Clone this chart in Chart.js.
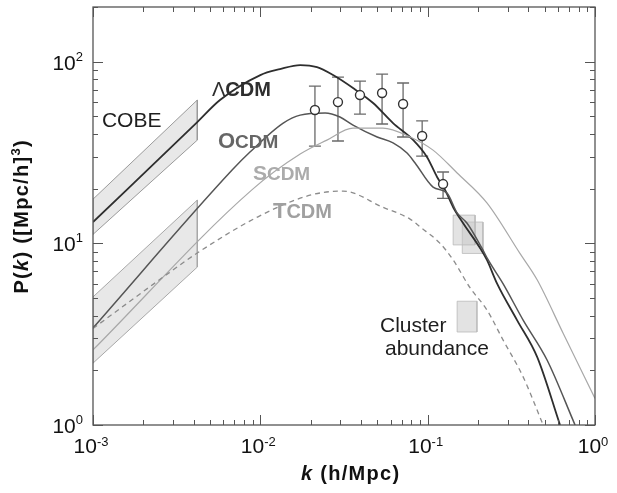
<!DOCTYPE html>
<html>
<head>
<meta charset="utf-8">
<script src="https://cdn.jsdelivr.net/npm/chart.js@4.4.1/dist/chart.umd.min.js"></script>
<style>
  html, body { margin: 0; padding: 0; background: #fff; }
</style>
</head>
<body>
<canvas id="pk" width="617" height="493"></canvas>
<script>
// model curves, k in h/Mpc, P in (Mpc/h)^3
const kLcdm = [0.001, 0.0042, 0.00574, 0.01, 0.0131, 0.0173, 0.0218, 0.0272, 0.0358, 0.0472, 0.0621, 0.0818, 0.099, 0.1138, 0.127, 0.142, 0.163, 0.206, 0.226, 0.26, 0.342, 0.451, 0.618];
const pLcdm = [13.1, 46.5, 61.5, 84.4, 91, 95.8, 93.3, 84.4, 71.6, 59.2, 45.9, 37.1, 29.9, 23.2, 19.7, 15.8, 12.9, 9.4, 8.1, 6.0, 3.78, 2.37, 1.0];

const kOcdm = [0.001, 0.00678, 0.00867, 0.0137, 0.0173, 0.0244, 0.0299, 0.0358, 0.0499, 0.0621, 0.0753, 0.0841, 0.1077, 0.1305, 0.150, 0.172, 0.211, 0.23, 0.282, 0.372, 0.517, 0.76];
const pOcdm = [3.42, 25.3, 31.8, 45.9, 50.8, 52.2, 49.6, 44.8, 38.5, 35.7, 31.4, 27.7, 20.4, 18.9, 14.7, 12.9, 9.4, 8.1, 6.0, 3.78, 2.28, 1.0];

const kScdm = [0.001, 0.0089, 0.0173, 0.025, 0.0358, 0.054, 0.0785, 0.1077, 0.150, 0.226, 0.356, 0.451, 0.645, 1.0];
const pScdm = [2.59, 19.7, 31, 37, 43.1, 43.1, 38.5, 32.6, 24.4, 16.7, 8.8, 6.3, 3.2, 1.4];

const kTcdm = [0.001, 0.00289, 0.0042, 0.00968, 0.0198, 0.0312, 0.054, 0.0785, 0.0902, 0.1186, 0.142, 0.179, 0.226, 0.282, 0.372, 0.49];
const pTcdm = [3.4, 6.95, 8.85, 14.0, 18.4, 19.4, 15.8, 13.6, 12.3, 10.0, 8.1, 5.7, 4.3, 2.94, 1.84, 1.0];

// galaxy survey points with error bars
const kData = [0.0212, 0.0291, 0.0394, 0.0534, 0.0713, 0.0927, 0.1236];
const pData = [54.2, 59.9, 65.5, 67.2, 58.5, 39, 21.2];
const pErrHigh = [73.4, 82.3, 78.2, 85.5, 76.3, 47.2, 24.7];
const pErrLow = [34.3, 36.6, 51.5, 45.4, 38.5, 30.2, 17.7];

// COBE normalisation bands (outline, closed)
const cobeK = [0.001, 0.0042, 0.0042, 0.001, 0.001];
const cobeHighP = [17.5, 61.5, 37, 11.2, 17.5];
const cobeLowP = [5.07, 17.3, 7.4, 2.19, 5.07];

// cluster abundance boxes
const clusterKLow = [0.142, 0.161, 0.150];
const clusterKHigh = [0.192, 0.214, 0.197];
const clusterPLow = [9.8, 8.8, 3.25];
const clusterPHigh = [14.3, 13.1, 4.8];

const xMajor = [0.001, 0.01, 0.1, 1];
const xExp = ['-3', '-2', '-1', '0'];
const yMajor = [1, 10, 100];
const yExp = ['0', '1', '2'];

const FONT = '"Liberation Sans", Arial, Helvetica, sans-serif';

function pts(ks, ps){
    return ks.map(function(k, i){ return {x: k, y: ps[i]}; });
}

function curve(ks, ps, color, width, dash){
    return {
        data: pts(ks, ps),
        showLine: true,
        borderColor: color,
        borderWidth: width,
        borderDash: dash || [],
        pointRadius: 0,
        cubicInterpolationMode: 'monotone',
        fill: false,
        order: 2
    };
}

function polygon(ks, ps, fillColor, lineColor, order){
    return {
        data: pts(ks, ps),
        showLine: true,
        borderColor: lineColor,
        backgroundColor: fillColor,
        borderWidth: 1,
        pointRadius: 0,
        tension: 0,
        fill: 'shape',
        order: order
    };
}

const datasets = [
    polygon(cobeK, cobeHighP, 'rgba(205,205,205,0.45)', '#9a9a9a', 6),
    polygon(cobeK, cobeLowP, 'rgba(205,205,205,0.45)', '#a8a8a8', 6)
];
for(let i = 0; i < clusterKLow.length; i++){
    const bk = [clusterKLow[i], clusterKHigh[i], clusterKHigh[i], clusterKLow[i], clusterKLow[i]];
    const bp = [clusterPHigh[i], clusterPHigh[i], clusterPLow[i], clusterPLow[i], clusterPHigh[i]];
    datasets.push(polygon(bk, bp, 'rgba(200,200,200,0.5)', 'rgba(185,185,185,0.8)', 5));
}
datasets.push(curve(kTcdm, pTcdm, '#8c8c8c', 1.3, [5, 4]));
datasets.push(curve(kScdm, pScdm, '#a8a8a8', 1.2));
datasets.push(curve(kOcdm, pOcdm, '#555', 1.5));
datasets.push(curve(kLcdm, pLcdm, '#2e2e2e', 1.8));
datasets.push({
    data: pts(kData, pData),
    showLine: false,
    pointRadius: 4.5,
    pointBackgroundColor: '#fff',
    pointBorderColor: '#333',
    pointBorderWidth: 1.4,
    order: 0
});

// text pieces: [text, size, bold, italic, color, raise]
function setFont(ctx, p){
    ctx.font = (p[3] ? 'italic ' : '') + (p[2] ? 'bold ' : '') + p[1] + 'px ' + FONT;
}

function drawParts(ctx, x, y, parts, spacing){
    let cx = x;
    const sp = spacing || 0;
    parts.forEach(function(p){
        setFont(ctx, p);
        ctx.fillStyle = p[4];
        for(const ch of p[0]){
            ctx.fillText(ch, cx, y - (p[5] || 0));
            cx += ctx.measureText(ch).width + sp;
        }
    });
    return cx - x;
}

function partsWidth(ctx, parts, spacing){
    let w = 0;
    const sp = spacing || 0;
    parts.forEach(function(p){
        setFont(ctx, p);
        for(const ch of p[0]){
            w += ctx.measureText(ch).width + sp;
        }
    });
    return w - sp;
}

const decorations = {
    id: 'decorations',
    beforeDatasetsDraw(chart){
        const ctx = chart.ctx;
        const xs = chart.scales.x, ys = chart.scales.y;
        ctx.save();
        ctx.strokeStyle = '#6a6a6a';
        ctx.lineWidth = 1.3;
        for(let i = 0; i < kData.length; i++){
            const px = xs.getPixelForValue(kData[i]);
            const top = ys.getPixelForValue(pErrHigh[i]);
            const bot = ys.getPixelForValue(pErrLow[i]);
            ctx.beginPath();
            ctx.moveTo(px, top); ctx.lineTo(px, bot);
            ctx.moveTo(px - 6, top); ctx.lineTo(px + 6, top);
            ctx.moveTo(px - 6, bot); ctx.lineTo(px + 6, bot);
            ctx.stroke();
        }
        ctx.restore();
    },
    afterDraw(chart){
        const ctx = chart.ctx;
        const a = chart.chartArea;
        const xs = chart.scales.x, ys = chart.scales.y;
        ctx.save();

        // frame
        ctx.strokeStyle = '#555';
        ctx.lineWidth = 1.3;
        ctx.strokeRect(a.left, a.top, a.right - a.left, a.bottom - a.top);

        // inward ticks on all four sides
        ctx.beginPath();
        for(let e = -3; e <= 0; e++){
            for(let m = 1; m <= 9; m++){
                const v = m * Math.pow(10, e);
                if(v > 1.0001) continue;
                const px = Math.round(xs.getPixelForValue(v)) + 0.5;
                const len = m === 1 ? 10 : 5;
                ctx.moveTo(px, a.bottom); ctx.lineTo(px, a.bottom - len);
                ctx.moveTo(px, a.top); ctx.lineTo(px, a.top + len);
            }
        }
        for(let e = 0; e <= 2; e++){
            for(let m = 1; m <= 9; m++){
                const v = m * Math.pow(10, e);
                if(v > 200) continue;
                const py = Math.round(ys.getPixelForValue(v)) + 0.5;
                const len = m === 1 ? 10 : 5;
                ctx.moveTo(a.left, py); ctx.lineTo(a.left + len, py);
                ctx.moveTo(a.right, py); ctx.lineTo(a.right - len, py);
            }
        }
        ctx.lineWidth = 1;
        ctx.stroke();

        // tick labels
        ctx.textBaseline = 'alphabetic';
        ctx.textAlign = 'left';
        yMajor.forEach(function(v, i){
            const py = ys.getPixelForValue(v);
            const parts = [['10', 21, false, false, '#111', 0], [yExp[i], 13, false, false, '#111', 9]];
            const w = partsWidth(ctx, parts);
            drawParts(ctx, a.left - 10 - w, py + 8, parts);
        });
        xMajor.forEach(function(v, i){
            const px = xs.getPixelForValue(v);
            const parts = [['10', 21, false, false, '#111', 0], [xExp[i], 13, false, false, '#111', 7]];
            const w = partsWidth(ctx, parts);
            drawParts(ctx, px - w / 2 - 2, a.bottom + 28, parts);
        });

        // axis titles
        const xt = [['k', 20, true, true, '#111'], [' (h/Mpc)', 20, true, false, '#111']];
        drawParts(ctx, 350 - partsWidth(ctx, xt, 1.3) / 2, a.bottom + 55, xt, 1.3);

        const yt = [['P(', 20, true, false, '#111'], ['k', 20, true, true, '#111'], [') ([Mpc/h]', 20, true, false, '#111'],
                    ['3', 13, true, false, '#111', 8], [')', 20, true, false, '#111']];
        ctx.save();
        ctx.translate(28, 217);
        ctx.rotate(-Math.PI / 2);
        drawParts(ctx, -partsWidth(ctx, yt, 1.3) / 2, 0, yt, 1.3);
        ctx.restore();

        // model / data labels, anchored in data coordinates
        const notes = [
            [0.00113, 43.6, [['COBE', 21, false, false, '#1e1e1e']]],
            [0.00514, 64.7, [['\u039b', 20, false, false, '#2e2e2e'], ['CDM', 20, true, false, '#2e2e2e']]],
            [0.00558, 33.5, [['O', 22, true, false, '#666'], ['CDM', 19, true, false, '#666']]],
            [0.00903, 22.3, [['S', 21, true, false, '#ababab'], ['CDM', 19, true, false, '#ababab']]],
            [0.0119, 13.8, [['T', 22, true, false, '#a0a0a0'], ['CDM', 20, true, false, '#a0a0a0']]],
            [0.0519, 3.25, [['Cluster', 21, false, false, '#1e1e1e']]],
            [0.0556, 2.43, [['abundance', 21, false, false, '#1e1e1e']]]
        ];
        notes.forEach(function(n){
            drawParts(ctx, xs.getPixelForValue(n[0]), ys.getPixelForValue(n[1]), n[2]);
        });

        ctx.restore();
    }
};

new Chart(document.getElementById('pk'), {
    type: 'scatter',
    data: { datasets: datasets },
    options: {
        responsive: false,
        animation: false,
        events: [],
        layout: { padding: { left: 0, right: 22, top: 7, bottom: 0 } },
        plugins: {
            legend: { display: false },
            tooltip: { enabled: false }
        },
        scales: {
            x: {
                type: 'logarithmic',
                min: 0.001,
                max: 1,
                ticks: { display: false },
                grid: { display: false },
                border: { display: false },
                afterFit: function(scale){ scale.height = 68; }
            },
            y: {
                type: 'logarithmic',
                min: 1,
                max: 200,
                ticks: { display: false },
                grid: { display: false },
                border: { display: false },
                afterFit: function(scale){ scale.width = 93; }
            }
        }
    },
    plugins: [decorations]
});
</script>
</body>
</html>
